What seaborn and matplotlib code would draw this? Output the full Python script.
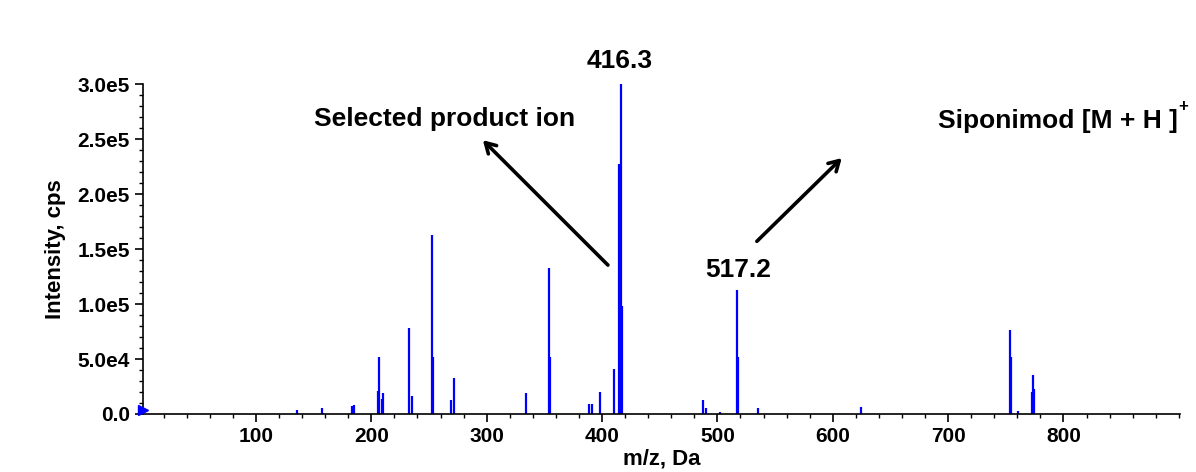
import matplotlib
matplotlib.use("Agg")
import matplotlib.pyplot as plt
import matplotlib.ticker as mticker
import numpy as np
import seaborn as sns
import pandas as pd

# peak list (m/z, intensity in cps)
mz = [135.5, 157.1, 158.0, 183.6, 185.0, 205.5, 206.3, 209.2, 210.0,
      232.6, 235.2, 252.5, 253.7, 269.0, 271.6, 334.0, 354.0, 354.9,
      389.0, 391.3, 398.5, 410.4, 415.0, 416.1, 417.3, 487.9, 490.5,
      502.0, 517.1, 518.0, 535.3, 624.9, 753.5, 754.4, 760.8, 772.3,
      773.5, 774.6]
intensity = [3600, 5000, 1000, 7500, 8500, 21000, 52000, 13600, 18800,
             78000, 16000, 163000, 52000, 12700, 33000, 18800, 133000, 52000,
             8800, 8800, 19700, 40600, 227000, 302000, 98500, 12700, 5200,
             1500, 112700, 52000, 5200, 6000, 76000, 51500, 2700, 19700,
             35700, 22400]

y_ticks = [0, 5e4, 1e5, 1.5e5, 2e5, 2.5e5, 3e5]
y_labels = ["0.0", "5.0e4", "1.0e5", "1.5e5", "2.0e5", "2.5e5", "3.0e5"]
x_ticks = [100, 200, 300, 400, 500, 600, 700, 800]

df = pd.DataFrame({"mz": mz, "intensity": intensity})

sns.set_theme(style="ticks")
plt.rcParams["font.family"] = ["Liberation Sans", "DejaVu Sans"]
plt.rcParams["font.weight"] = "bold"
plt.rcParams["text.color"] = "black"
plt.rcParams["axes.labelcolor"] = "black"

fig = plt.figure(figsize=(11.96, 4.72), dpi=100)
ax = fig.add_axes([0.1196, 0.1229, 0.867, 0.699])

blue = "#0000ff"
ax.vlines(df["mz"], 0, df["intensity"], color=blue, linewidth=1.6)
ax.plot(2.1, 3500, marker=">", ms=7, color=blue, clip_on=False, zorder=5)

ax.set_xlim(2.1, 901)
ax.set_ylim(0, 3.0e5)
ax.set_xticks(x_ticks)
ax.set_yticks(y_ticks)
ax.set_yticklabels(y_labels)
ax.xaxis.set_minor_locator(mticker.MultipleLocator(20))
ax.yaxis.set_minor_locator(mticker.MultipleLocator(1e4))
ax.tick_params(axis="both", which="major", length=6, width=1.2, labelsize=15,
               color="black", labelcolor="black", direction="out")
ax.tick_params(axis="both", which="minor", length=3, width=1, color="black",
               direction="out")
for lab in ax.get_xticklabels() + ax.get_yticklabels():
    lab.set_fontweight("bold")

sns.despine(ax=ax)
for s in ["left", "bottom"]:
    ax.spines[s].set_color("black")
    ax.spines[s].set_linewidth(1.2)

ax.set_xlabel("m/z, Da", fontsize=16, fontweight="bold", labelpad=2)
ax.set_ylabel("Intensity, cps", fontsize=16, fontweight="bold", labelpad=8)

tkw = dict(fontsize=19, fontweight="bold", color="black", annotation_clip=False)
ax.annotate("416.3", xy=(415.5, 321000), ha="center", va="center", **tkw)
ax.annotate("517.2", xy=(517.7, 131000), ha="center", va="center", **tkw)
ax.annotate("Selected product ion", xy=(263.8, 268000), ha="center",
            va="center", **tkw)
t = ax.annotate("Siponimod [M + H ]", xy=(899.6, 266000), ha="right",
                va="center", **tkw)
ax.annotate("+", xy=(1.0, 0.8), xycoords=t, ha="left", va="bottom",
            fontsize=12, fontweight="bold", annotation_clip=False)

akw = dict(arrowstyle="->,head_length=0.6,head_width=0.35", color="black",
           lw=2.6, shrinkA=0, shrinkB=0)
ax.annotate("", xy=(296.7, 249000), xytext=(405.1, 135400),
            arrowprops=akw, annotation_clip=False)
ax.annotate("", xy=(607.8, 232700), xytext=(534.2, 157000),
            arrowprops=akw, annotation_clip=False)

fig.savefig("out.png", dpi=100, facecolor="white")
